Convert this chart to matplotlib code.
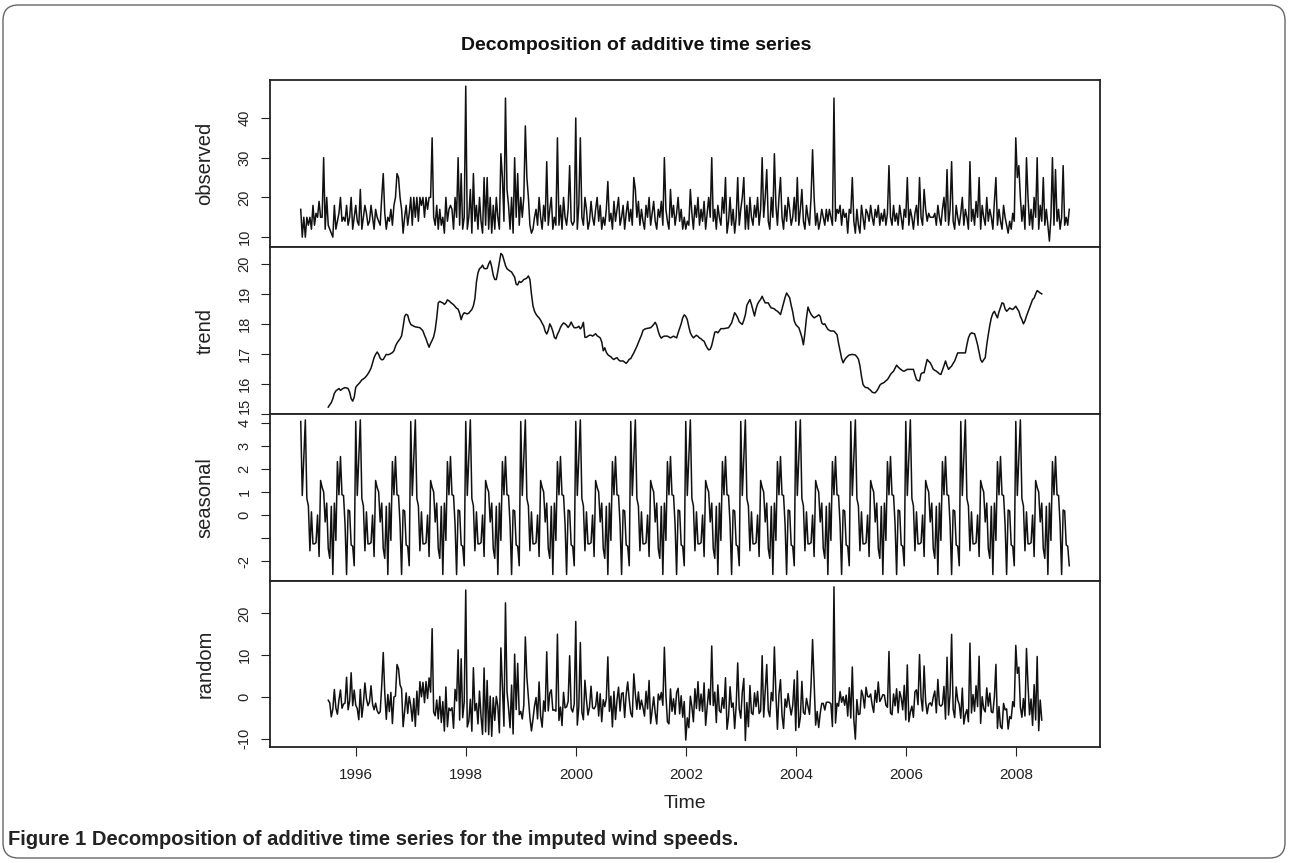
import numpy as np
import matplotlib
matplotlib.use('Agg')
import matplotlib.pyplot as plt
from matplotlib.patches import FancyBboxPatch

plt.rcParams['axes.unicode_minus'] = False
NARROW = ['Liberation Sans Narrow', 'Liberation Sans', 'DejaVu Sans']
REGULAR = ['Liberation Sans', 'DejaVu Sans']

start_year = 1995
freq = 36          # observations per year
trend_offset = 18  # centred moving average loses half a year at each end

# observed wind speed, one list per year
obs_1995 = [17,10,15,10,15,13,15,12,18,13,16,15,19,15,15,30,12,20,13,12,11,10,18,12,14,16,20,14,15,14,18,13,15,20,12,15]
obs_1996 = [18,14,13,22,12,15,18,16,13,14,18,15,12,17,15,14,13,20,26,16,12,15,14,17,13,18,20,26,25,20,17,11,15,18,13,16]
obs_1997 = [20,13,20,15,20,14,20,18,20,15,20,17,20,20,35,15,13,18,12,17,13,15,11,20,14,17,18,17,12,20,15,30,13,26,12,15]
obs_1998 = [48,12,15,22,11,26,14,18,12,20,14,11,25,13,25,12,20,11,18,12,20,15,12,31,25,14,45,22,18,12,20,11,30,15,26,13]
obs_1999 = [20,15,20,38,25,20,13,11,12,15,17,13,20,15,12,18,14,29,13,17,20,12,15,13,35,13,18,12,20,15,13,17,28,14,13,14]
obs_2000 = [40,12,18,35,15,13,20,17,12,14,19,15,13,17,20,14,18,12,15,13,17,24,14,16,12,19,14,17,20,13,15,18,12,16,19,14]
obs_2001 = [17,13,25,22,15,19,13,17,14,12,18,15,20,13,16,19,14,12,17,15,19,13,30,17,14,12,22,15,18,13,16,20,14,17,12,15]
obs_2002 = [12,14,13,22,16,12,18,15,20,13,17,14,19,12,16,20,15,30,14,17,12,18,15,13,20,16,25,11,14,20,13,17,11,15,25,13]
obs_2003 = [17,20,25,12,18,12,20,15,13,18,15,20,13,17,30,15,20,27,14,12,20,15,31,18,13,20,25,15,12,18,14,20,17,13,15,20]
obs_2004 = [14,25,13,17,22,14,12,18,15,13,20,32,20,13,16,12,14,17,15,13,17,14,17,15,13,45,14,17,16,18,13,17,15,16,11,17]
obs_2005 = [16,25,14,11,17,13,11,18,15,12,17,16,14,18,15,13,17,15,18,13,16,14,17,13,16,28,15,13,18,14,16,13,18,15,12,17]
obs_2006 = [15,25,13,17,15,12,16,18,13,25,15,13,22,17,14,16,15,15,15,16,13,18,15,13,17,20,14,27,13,17,29,14,12,18,15,13]
obs_2007 = [16,20,13,17,15,12,29,14,17,13,19,15,25,12,18,15,13,20,14,17,15,12,19,25,13,17,14,12,18,15,13,11,14,12,16,14]
obs_2008 = [35,25,28,20,14,18,12,30,20,13,17,12,20,15,30,12,18,14,25,13,17,13,9,15,30,13,27,14,17,12,15,28,13,15,13,17]

# trend component (moving average), per year
trend_1995 = [15.22,15.30,15.37,15.50,15.68,15.76,15.80,15.84,15.78,15.82,15.85,15.87,15.86,15.84,15.72,15.50,15.42,15.55]
trend_1996 = [15.88,15.95,16.00,16.06,16.13,16.16,16.20,16.26,16.33,16.42,16.52,16.70,16.87,16.98,17.06,16.98,16.85,16.80,
              16.81,16.90,16.98,16.97,16.98,17.01,17.04,17.10,17.25,17.36,17.43,17.50,17.60,17.90,18.25,18.32,18.29,18.10]
trend_1997 = [17.98,17.95,17.92,17.90,17.89,17.88,17.87,17.82,17.76,17.62,17.50,17.35,17.22,17.35,17.45,17.57,17.80,18.20,
              18.70,18.75,18.72,18.70,18.65,18.70,18.80,18.77,18.72,18.68,18.64,18.58,18.52,18.49,18.35,18.14,18.30,18.37]
trend_1998 = [18.35,18.33,18.36,18.42,18.48,18.60,18.85,19.40,19.70,19.84,19.88,19.96,19.85,19.84,19.85,20.00,20.10,19.90,
              19.62,19.48,19.48,19.75,20.05,20.35,20.30,20.12,19.95,19.84,19.80,19.76,19.73,19.64,19.56,19.32,19.30,19.42]
trend_1999 = [19.38,19.42,19.48,19.50,19.53,19.60,19.48,19.00,18.60,18.42,18.32,18.25,18.20,18.12,18.02,17.93,17.75,17.66,
              17.78,18.00,17.90,17.75,17.55,17.50,17.65,17.75,17.88,17.97,18.03,18.00,17.95,17.88,17.95,18.06,17.95,17.87]
trend_2000 = [17.87,17.88,17.92,17.83,17.90,18.05,17.55,17.55,17.59,17.62,17.62,17.59,17.63,17.67,17.60,17.57,17.53,17.40,
              17.10,17.20,17.05,16.97,16.93,16.90,16.84,16.81,16.85,16.87,16.80,16.76,16.76,16.76,16.72,16.68,16.74,16.82]
trend_2001 = [16.84,16.94,17.03,17.14,17.25,17.38,17.50,17.62,17.78,17.82,17.84,17.85,17.86,17.87,17.92,17.98,18.05,17.95,
              17.75,17.60,17.52,17.57,17.59,17.59,17.59,17.56,17.53,17.56,17.59,17.56,17.53,17.70,17.85,18.00,18.20,18.30]
trend_2002 = [18.25,18.14,17.90,17.70,17.60,17.53,17.58,17.62,17.58,17.53,17.50,17.45,17.42,17.30,17.20,17.13,17.15,17.28,
              17.50,17.72,17.74,17.70,17.77,17.84,17.84,17.84,17.85,17.86,17.87,17.95,18.03,18.20,18.37,18.30,18.20,18.07]
trend_2003 = [18.02,17.98,18.12,18.30,18.62,18.72,18.81,18.65,18.45,18.26,18.50,18.66,18.75,18.82,18.92,18.80,18.70,18.70,
              18.70,18.60,18.53,18.52,18.50,18.45,18.42,18.37,18.31,18.50,18.70,18.88,19.03,18.95,18.87,18.62,18.40,18.10]
trend_2004 = [17.98,17.92,17.87,17.72,17.55,17.30,17.70,18.20,18.56,18.42,18.32,18.25,18.20,18.23,18.26,18.30,18.25,18.03,
              17.98,18.00,17.90,17.82,17.78,17.76,17.76,17.76,17.70,17.64,17.35,17.10,16.85,16.70,16.80,16.87,16.92,16.96]
trend_2005 = [16.97,16.98,16.97,16.96,16.90,16.82,16.60,16.25,15.98,15.90,15.87,15.87,15.82,15.78,15.72,15.70,15.70,15.76,
              15.84,15.95,16.00,16.02,16.05,16.10,16.14,16.22,16.31,16.37,16.42,16.52,16.62,16.56,16.51,16.47,16.43,16.42]
trend_2006 = [16.45,16.48,16.48,16.48,16.48,16.48,16.30,16.14,16.10,16.10,16.33,16.37,16.37,16.60,16.81,16.75,16.70,16.60,
              16.48,16.45,16.42,16.38,16.33,16.31,16.45,16.60,16.76,16.60,16.48,16.54,16.59,16.68,16.76,16.90,17.03,17.03]
trend_2007 = [17.03,17.03,17.03,17.03,17.30,17.53,17.65,17.70,17.68,17.67,17.50,17.30,17.05,16.80,16.72,16.80,16.87,17.30,
              17.64,17.95,18.20,18.35,18.42,18.30,18.20,18.40,18.55,18.70,18.68,18.50,18.42,18.47,18.53,18.50,18.48,18.53]
trend_2008 = [18.59,18.50,18.42,18.25,18.14,18.00,18.10,18.26,18.40,18.53,18.68,18.81,18.86,19.00,19.11,19.07,19.03,19.00]

# one year of the seasonal figure
seasonal_cycle = [4.06,0.85,2.45,4.13,0.72,0.40,-1.55,0.14,-1.25,-1.25,-1.20,0.00,-1.80,1.50,1.20,1.00,-0.30,0.52,
                  -1.45,-1.88,0.38,-2.58,0.52,-1.10,2.32,0.88,2.54,0.88,0.85,-0.40,-2.58,0.22,0.18,-1.30,-1.35,-2.20]

observed = np.array(obs_1995 + obs_1996 + obs_1997 + obs_1998 + obs_1999 + obs_2000 + obs_2001 +
                    obs_2002 + obs_2003 + obs_2004 + obs_2005 + obs_2006 + obs_2007 + obs_2008, dtype=float)
trend_vals = (trend_1995 + trend_1996 + trend_1997 + trend_1998 + trend_1999 + trend_2000 + trend_2001 +
              trend_2002 + trend_2003 + trend_2004 + trend_2005 + trend_2006 + trend_2007 + trend_2008)

n = len(observed)
time = start_year + np.arange(n) / freq
seasonal = np.array(seasonal_cycle)[np.arange(n) % freq]
trend = np.full(n, np.nan)
trend[trend_offset:trend_offset + len(trend_vals)] = trend_vals
random = observed - trend - seasonal   # additive decomposition

panels = [('observed', observed, [10, 20, 30, 40], None),
          ('trend', trend, [15, 16, 17, 18, 19, 20], None),
          ('seasonal', seasonal, [-2, -1, 0, 1, 2, 3, 4], ['-2', '', '0', '1', '2', '3', '4']),
          ('random', random, [-10, 0, 10, 20], None)]

W, H = 1290, 863
fig = plt.figure(figsize=(W / 100, H / 100), dpi=100)
left_px, right_px = 270, 1100
edges = [80, 247.3, 413.7, 580.7, 746.7]

span = time[-1] - time[0]
xlim = (time[0] - 0.04 * span, time[-1] + 0.04 * span)

for i, (name, y, ticks, labels) in enumerate(panels):
    top, bot = edges[i], edges[i + 1]
    ax = fig.add_axes([left_px / W, 1 - bot / H, (right_px - left_px) / W, (bot - top) / H])
    ax.plot(time, y, color='#111111', lw=1.1)
    ax.set_xlim(xlim)
    ax.set_ymargin(0.04)
    ax.autoscale(axis='y')
    ax.set_yticks(ticks)
    ax.set_yticklabels(labels if labels else [str(v) for v in ticks], family=REGULAR, fontsize=10.5)
    for lab in ax.get_yticklabels():
        lab.set_rotation(90)
        lab.set_va('center')
    if name == 'trend':
        # bottom label sits just above the panel edge, next to the seasonal top label
        ax.get_yticklabels()[0].set_va('bottom')
    ax.tick_params(axis='y', direction='out', length=6.3, width=0.8, pad=7, colors='#222222')
    for s in ax.spines.values():
        s.set_linewidth(1.3)
        s.set_color('#222222')
    ax.set_ylabel(name, family=REGULAR, fontsize=14.5, color='#222222')
    ax.yaxis.label.set_va('center')
    ax.yaxis.set_label_coords(-65 / (right_px - left_px), 0.5)
    if i < 3:
        ax.set_xticks([])
    else:
        ax.set_xticks(range(1996, 2009, 2))
        ax.set_xticklabels([str(v) for v in range(1996, 2009, 2)], family=NARROW, fontsize=11)
        ax.tick_params(axis='x', direction='out', length=6.3, width=0.8, pad=9, colors='#222222')

fig.text(636 / W, 1 - 45 / H, 'Decomposition of additive time series', ha='center', va='center',
         fontsize=14, fontweight='bold', family=NARROW, color='#111111')
fig.text(685 / W, 1 - 803 / H, 'Time', ha='center', va='center', fontsize=14, family=NARROW, color='#222222')
fig.text(8 / W, 1 - 839 / H, 'Figure 1 Decomposition of additive time series for the imputed wind speeds.',
         ha='left', va='center', fontsize=14.5, fontweight='bold', family=NARROW, color='#222222')

box = FancyBboxPatch((3 / W, 5 / H), 1282 / W, 853 / H, boxstyle='round,pad=0,rounding_size=0.012',
                     mutation_aspect=W / H, transform=fig.transFigure, fill=False,
                     edgecolor='#666666', lw=1.0)
fig.patches.append(box)

fig.savefig('out.png', dpi=100)
